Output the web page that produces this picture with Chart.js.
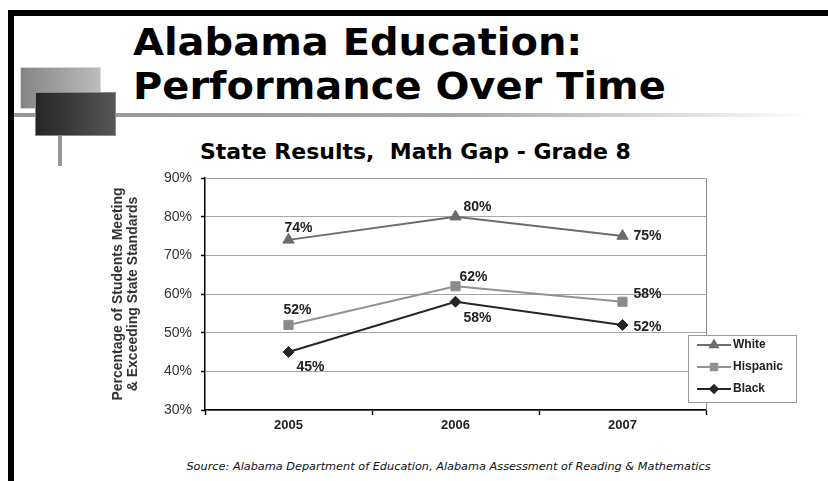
<!DOCTYPE html>
<html>
<head>
<meta charset="utf-8">
<script src="https://cdn.jsdelivr.net/npm/chart.js@4"></script>
<style>
    body { margin: 0; background: #fff; }
    #slide { position: relative; width: 828px; height: 481px; overflow: hidden; background: #fff; }
    .bar { position: absolute; background: #000; }
    .deco { position: absolute; }
    .head { position: absolute; left: 133px; font-family: "DejaVu Sans"; font-weight: bold; font-size: 37px;
            line-height: 37px; color: #000; white-space: pre; transform: scaleX(1.08); transform-origin: left top; }
    #sub { position: absolute; left: 200px; top: 141px; font-family: "DejaVu Sans"; font-weight: bold;
           font-size: 22px; line-height: 22px; white-space: pre; color: #000; }
    #src { position: absolute; left: 0; width: 897px; text-align: center; top: 461px; font-family: "DejaVu Sans";
           font-style: italic; font-size: 11.3px; line-height: 11px; color: #111; }
    #assetChart { position: absolute; left: 0; top: 0; }
</style>
</head>
<body>
<div id="slide">
    <div class="bar" style="left:8px;top:10px;width:820px;height:6px"></div>
    <div class="bar" style="left:8px;top:10px;width:6px;height:471px"></div>
    <div class="deco" style="left:14px;top:113px;width:814px;height:4px;background:linear-gradient(to right,#979797 0%,#a8a8a8 55%,#fff 98%)"></div>
    <div class="deco" style="left:21px;top:68px;width:79px;height:40px;background:linear-gradient(to right,#858585,#bcbcbc);box-shadow:0 0 0 1px #d8d8d8"></div>
    <div class="deco" style="left:58px;top:135px;width:4px;height:31px;background:#979797"></div>
    <div class="deco" style="left:36px;top:93px;width:79px;height:42px;background:linear-gradient(to right,#262626,#555);box-shadow:0 0 0 1px #888"></div>
    <div class="head" style="top:24px">Alabama Education:</div>
    <div class="head" style="top:68px">Performance Over Time</div>
    <div id="sub">State Results,  Math Gap - Grade 8</div>
    <div id="src">Source: Alabama Department of Education, Alabama Assessment of Reading &amp; Mathematics</div>
    <canvas id="assetChart" width="828" height="481"></canvas>
</div>
<script>
    const years = ['2005', '2006', '2007'];
    const white = [74, 80, 75];
    const hispanic = [52, 62, 58];
    const black = [45, 58, 52];
    const yTicks = [30, 40, 50, 60, 70, 80, 90];

    // where each value label sits relative to its point
    const whiteLbl = [[10, -12], [22, -10], [25, 0]];
    const hispLbl = [[9, -15], [18, -9], [25, -8]];
    const blackLbl = [[22, 15], [22, 16], [25, 2]];

    let myChart;

    const valueLabels = {
        id: 'valueLabels',
        afterDatasetsDraw(chart) {
            const ctx = chart.ctx;
            ctx.save();
            ctx.font = 'bold 14px "Liberation Sans"';
            ctx.fillStyle = '#222';
            ctx.textAlign = 'center';
            ctx.textBaseline = 'middle';
            chart.data.datasets.forEach((ds, i) => {
                chart.getDatasetMeta(i).data.forEach((pt, j) => {
                    const off = ds.lblPos[j];
                    ctx.fillText(ds.data[j] + '%', pt.x + off[0], pt.y + off[1]);
                });
            });
            ctx.restore();
        }
    };

    // plot frame right edge + boxed legend with line/marker samples
    const boxLegend = {
        id: 'boxLegend',
        beforeDatasetsDraw(chart) {
            const { ctx, chartArea: a } = chart;
            ctx.save();
            ctx.strokeStyle = '#8c8c8c';
            ctx.lineWidth = 1;
            ctx.beginPath();
            ctx.moveTo(a.right + 0.5, a.top);
            ctx.lineTo(a.right + 0.5, a.bottom);
            ctx.stroke();
            ctx.restore();
        },
        afterDraw(chart) {
            const ctx = chart.ctx;
            const bx = 688, by = 335, bw = 108, bh = 67;
            ctx.save();
            ctx.fillStyle = '#fff';
            ctx.fillRect(bx, by, bw, bh);
            ctx.strokeStyle = '#999';
            ctx.lineWidth = 1;
            ctx.strokeRect(bx + 0.5, by + 0.5, bw, bh);
            ctx.font = 'bold 12px "Liberation Sans"';
            ctx.textBaseline = 'middle';
            chart.data.datasets.forEach((ds, i) => {
                const y = by + 10 + i * 22;
                ctx.strokeStyle = ds.borderColor;
                ctx.lineWidth = 2;
                ctx.beginPath();
                ctx.moveTo(bx + 9, y);
                ctx.lineTo(bx + 43, y);
                ctx.stroke();
                ctx.fillStyle = ds.borderColor;
                Chart.helpers.drawPoint(ctx, {
                    pointStyle: ds.pointStyle, radius: ds.pointRadius * 0.7, rotation: 0, borderWidth: 1
                }, bx + 26, y);
                ctx.fillStyle = '#222';
                ctx.fillText(ds.label, bx + 45, y);
            });
            ctx.restore();
        }
    };

    function buildChart() {
        const ctx = document.getElementById('assetChart').getContext('2d');
        myChart = new Chart(ctx, {
            type: 'line',
            data: {
                labels: years,
                datasets: [
                    { label: 'White', data: white, lblPos: whiteLbl, borderColor: '#6c6c6c', backgroundColor: '#6c6c6c',
                      pointStyle: 'triangle', pointRadius: 6.5, borderWidth: 2, pointBorderWidth: 1 },
                    { label: 'Hispanic', data: hispanic, lblPos: hispLbl, borderColor: '#929292', backgroundColor: '#8a8a8a',
                      pointStyle: 'rect', pointRadius: 6.5, borderWidth: 2, pointBorderWidth: 1 },
                    { label: 'Black', data: black, lblPos: blackLbl, borderColor: '#262626', backgroundColor: '#262626',
                      pointStyle: 'rectRot', pointRadius: 5.5, borderWidth: 2, pointBorderWidth: 1 }
                ]
            },
            options: {
                responsive: false,
                animation: false,
                devicePixelRatio: 1,
                layout: { padding: { left: 100, top: 178, right: 122, bottom: 41 } },
                plugins: { legend: { display: false }, tooltip: { enabled: false } },
                scales: {
                    x: {
                        offset: true,
                        afterFit: s => { s.height = 30; },
                        grid: { offset: true, drawOnChartArea: false, tickLength: 5, tickColor: '#000', tickWidth: 1.5 },
                        border: { color: '#000', width: 1.5 },
                        ticks: { padding: 3, color: '#222', font: { family: 'Liberation Sans', size: 13, weight: 'bold' } }
                    },
                    y: {
                        min: yTicks[0],
                        max: yTicks[yTicks.length - 1],
                        afterFit: s => { s.width = 105; },
                        afterBuildTicks: s => { s.ticks = yTicks.map(v => ({ value: v })); },
                        grid: { color: '#a6a6a6', lineWidth: 1, tickLength: 4, tickColor: '#000', tickWidth: 1.5 },
                        border: { color: '#000', width: 1.5 },
                        ticks: {
                            padding: 9, color: '#333',
                            font: { family: 'Liberation Sans', size: 14 },
                            callback: v => v + '%'
                        },
                        title: {
                            display: true,
                            text: ['Percentage of Students Meeting', '& Exceeding State Standards'],
                            color: '#333',
                            font: { family: 'Liberation Sans', size: 14, weight: 'bold', lineHeight: 1.07 },
                            padding: { top: 10.5, bottom: 0 }
                        }
                    }
                }
            },
            plugins: [valueLabels, boxLegend]
        });
    }

    window.onload = () => { buildChart(); };
</script>
</body>
</html>
